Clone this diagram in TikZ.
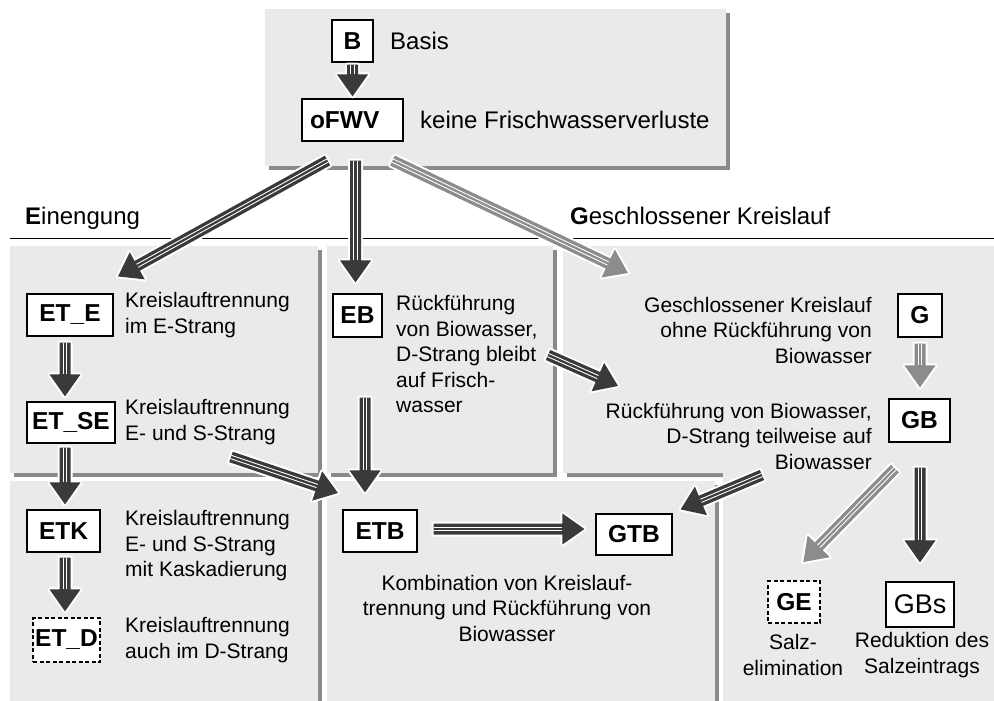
\documentclass[tikz,border=0pt]{standalone}
\usepackage{fontspec}
\setmainfont{Liberation Sans}
\usetikzlibrary{calc}
\definecolor{darkarr}{HTML}{3A3A3A}
\definecolor{grayarr}{HTML}{8C8C8C}
\definecolor{panelc}{HTML}{EAEAEA}
\definecolor{shadowc}{HTML}{8A8A8A}
\newdimen\arAx \newdimen\arAy \newdimen\arBx \newdimen\arBy
\newcommand\bigarrow[3]{%
  \pgfextractx{\arAx}{\pgfpointanchor{#2}{center}}%
  \pgfextracty{\arAy}{\pgfpointanchor{#2}{center}}%
  \pgfextractx{\arBx}{\pgfpointanchor{#3}{center}}%
  \pgfextracty{\arBy}{\pgfpointanchor{#3}{center}}%
  \pgfmathsetmacro\arAng{atan2(\arBy-\arAy,\arBx-\arAx)}%
  \pgfmathsetmacro\arLen{veclen(\arBx-\arAx,\arBy-\arAy)}%
  \pgfmathsetmacro\arBase{\arLen-22}%
  \begin{scope}[shift={(#2)},rotate=\arAng]
    \fill[#1,preaction={draw=white,line width=4pt,line join=round}]
      (0pt,-5.5pt) -- (\arBase pt,-5.5pt) -- (\arBase pt,-15.5pt) -- (\arLen pt,0pt)
      -- (\arBase pt,15.5pt) -- (\arBase pt,5.5pt) -- (0pt,5.5pt) -- cycle;
    \draw[white,line width=0.9pt] (0pt,-1.7pt) -- (\arBase pt,-1.7pt)
      (0pt,1.7pt) -- (\arBase pt,1.7pt);
  \end{scope}}
\newcommand\panelbox[4]{%
  \fill[shadowc] ({#1+4},{#2+4}) rectangle ({#3+4},{#4+4});
  \fill[panelc] (#1,#2) rectangle (#3,#4);}
\tikzset{
  box/.style={draw=black, line width=1.1pt, fill=white, inner sep=0pt,
    font=\fontsize{24.5}{27}\selectfont\bfseries},
  dbox/.style={box, line width=1.3pt, dash pattern=on 4pt off 2.5pt},
  body/.style={inner sep=0pt, font=\fontsize{21}{25.5}\selectfont},
  big/.style={inner sep=0pt, font=\fontsize{24}{28}\selectfont},
}
\begin{document}
\begin{tikzpicture}[x=1pt,y=-1pt]
\useasboundingbox (0,0) rectangle (994,701);
% panels
\fill[shadowc] (567,250) -- (998,250) -- (998,705) -- (727,705) -- (727,477) -- (567,477) -- cycle;
\fill[panelc] (563,246) -- (994,246) -- (994,701) -- (723,701) -- (723,473) -- (563,473) -- cycle;
\panelbox{265}{9}{726}{166}
\panelbox{10}{246}{318}{473}
\panelbox{327}{246}{553}{473}
\panelbox{10}{481}{318}{701}
\panelbox{327}{481}{715}{701}
% rule
\draw[line width=0.8pt] (10,238) -- (994,238);
% headings
\node[big, anchor=west] (hE) at (25,218) {\textbf{E}inengung};
\node[big, anchor=west] (hG) at (570,216) {\textbf{G}eschlossener Kreislauf};
% boxes
\node[box, minimum width=41pt, minimum height=42pt] (B) at (352.5,41) {B};
\node[box, minimum width=101pt, minimum height=42pt, text width=85pt, align=left] (oFWV) at (352.5,120) {oFWV};
\node[box, minimum width=86pt, minimum height=42pt] (ETE) at (70,315) {ET\_E};
\node[box, minimum width=88pt, minimum height=41pt] (ETSE) at (71,422.5) {ET\_SE};
\node[box, minimum width=49pt, minimum height=43pt] (EB) at (357.5,315.5) {EB};
\node[box, minimum width=44pt, minimum height=43pt] (G) at (920,315.5) {G};
\node[box, minimum width=61pt, minimum height=43pt] (GB) at (919.5,420.5) {GB};
\node[box, minimum width=73pt, minimum height=42pt] (ETK) at (63.5,531) {ETK};
\node[dbox, minimum width=67pt, minimum height=44pt] (ETD) at (66.5,640) {ET\_D};
\node[box, minimum width=74pt, minimum height=42pt] (ETB) at (380,531) {ETB};
\node[box, minimum width=76pt, minimum height=41pt] (GTB) at (634,534.5) {GTB};
\node[dbox, minimum width=52pt, minimum height=42pt] (GE) at (794,602) {GE};
\node[box, minimum width=68pt, minimum height=45pt, font=\fontsize{27}{30}\selectfont] (GBs) at (920,604.5) {GBs};
% texts
\node[big, anchor=west] (tB) at (390,41) {Basis};
\node[big, anchor=west] (tF) at (420,120) {keine Frischwasserverluste};
\node[body, anchor=west, align=left] (tETE) at (125,315) {Kreislauftrennung\\im E-Strang};
\node[body, anchor=west, align=left] (tETSE) at (125,422) {Kreislauftrennung\\E- und S-Strang};
\node[body, anchor=west, align=left] (tEB) at (396,354) {Rückführung\\von Biowasser,\\D-Strang bleibt\\auf Frisch-\\wasser};
\node[body, anchor=east, align=right] (tG) at (872,330) {Geschlossener Kreislauf\\ohne Rückführung von\\Biowasser};
\node[body, anchor=east, align=right] (tGB) at (872,436) {Rückführung von Biowasser,\\D-Strang teilweise auf\\Biowasser};
\node[body, anchor=west, align=left] (tETK) at (125,546) {Kreislauftrennung\\E- und S-Strang\\mit Kaskadierung};
\node[body, anchor=west, align=left] (tETD) at (125,640) {Kreislauftrennung\\auch im D-Strang};
\node[body, align=center] (tETB) at (507,608) {Kombination von Kreislauf-\\trennung und Rückführung von\\Biowasser};
\node[body, align=center] (tGE) at (793,655) {Salz-\\elimination};
\node[body, align=center] (tGBs) at (922,655) {Reduktion des\\Salzeintrags};
% arrow end points
\coordinate (a1s) at ($(B.south)+(0,2)$);
\coordinate (a1e) at ($(oFWV.north)+(0,-2)$);
\coordinate (a2s) at ($(oFWV.south)+(-25,19)$);
\coordinate (a2e) at ($(ETE.north)+(48,-17)$);
\coordinate (a3s) at ($(oFWV.south)+(3,19)$);
\coordinate (a3e) at ($(EB.north)+(-2,-11)$);
\coordinate (a4s) at ($(oFWV.south)+(40,19)$);
\coordinate (a4e) at (628,273);
\coordinate (a5s) at (548,355);
\coordinate (a5e) at (618,386);
\coordinate (a6s) at (231,457);
\coordinate (a6e) at (338,493);
\coordinate (a7s) at ($(EB.south)+(7.5,60)$);
\coordinate (a7e) at ($(ETB.north)+(-15,-17)$);
\coordinate (a8s) at ($(ETB.east)+(16,-2)$);
\coordinate (a8e) at ($(GTB.west)+(-11,-5.5)$);
\coordinate (a9s) at (762,475);
\coordinate (a9e) at ($(GTB.north east)+(8,-4)$);
\coordinate (a10s) at ($(GB.south)+(-24.5,26)$);
\coordinate (a10e) at ($(GE.north)+(9,-18)$);
\coordinate (a11s) at ($(GB.south)+(0.5,25)$);
\coordinate (a11e) at ($(GBs.north)+(0,-19)$);
\coordinate (a12s) at ($(G.south)+(0,6)$);
\coordinate (a12e) at ($(GB.north)+(0.5,-11)$);
\coordinate (a13s) at ($(ETE.south)+(-5,6)$);
\coordinate (a13e) at ($(ETSE.north)+(-6,-5)$);
\coordinate (a14s) at ($(ETSE.south)+(-6,4)$);
\coordinate (a14e) at ($(ETK.north)+(1.5,-5)$);
\coordinate (a15s) at ($(ETK.south)+(1.5,5)$);
\coordinate (a15e) at ($(ETD.north)+(-1.5,-6)$);
% arrows
\bigarrow{darkarr}{a1s}{a1e}
\bigarrow{darkarr}{a2s}{a2e}
\bigarrow{darkarr}{a3s}{a3e}
\bigarrow{grayarr}{a4s}{a4e}
\bigarrow{darkarr}{a5s}{a5e}
\bigarrow{darkarr}{a6s}{a6e}
\bigarrow{darkarr}{a7s}{a7e}
\bigarrow{darkarr}{a8s}{a8e}
\bigarrow{darkarr}{a9s}{a9e}
\bigarrow{grayarr}{a10s}{a10e}
\bigarrow{darkarr}{a11s}{a11e}
\bigarrow{grayarr}{a12s}{a12e}
\bigarrow{darkarr}{a13s}{a13e}
\bigarrow{darkarr}{a14s}{a14e}
\bigarrow{darkarr}{a15s}{a15e}
\end{tikzpicture}
\end{document}
